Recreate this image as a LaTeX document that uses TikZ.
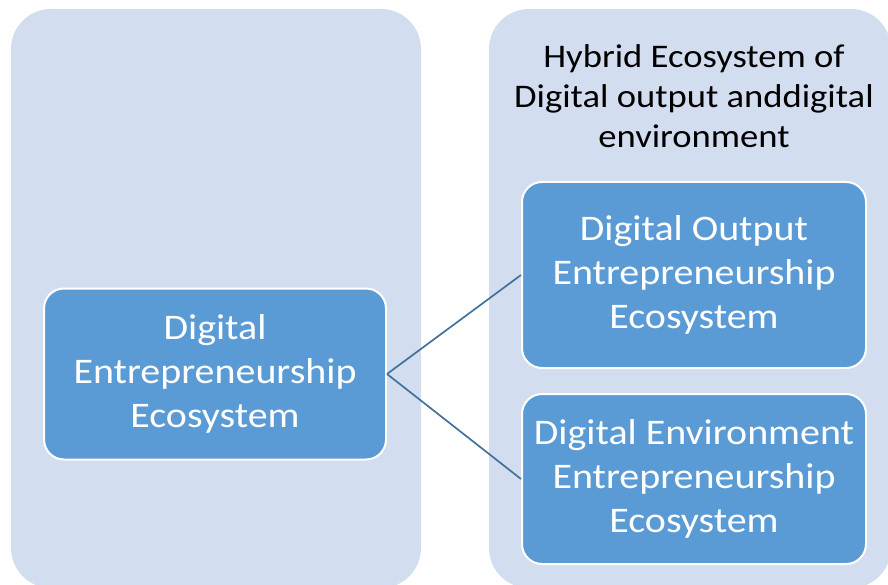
\documentclass[tikz,border=0pt]{standalone}
\usepackage{fontspec}
\setmainfont{Carlito}[FakeStretch=1.11]
\definecolor{panelblue}{HTML}{D2DEEF}
\definecolor{boxblue}{HTML}{5B9BD5}
\definecolor{lineblue}{HTML}{41719C}
\begin{document}
\begin{tikzpicture}[x=1pt, y=1pt,
  panel/.style={fill=panelblue, draw=none, rounded corners=40pt},
  ecobox/.style={rectangle, rounded corners=20pt, fill=boxblue, draw=white, line width=2pt,
    text=white, align=center, inner sep=0pt, font=\fontsize{36}{44}\selectfont},
  link/.style={draw=lineblue, line width=1.7pt}]

\def\yb{-588}; % panel bottom
\def\yt{-9}; % panel top

\path[use as bounding box, clip] (0, 0) rectangle (888, -585);

\filldraw[panel] (11, \yt) rectangle (421, \yb); % left panel
\filldraw[panel] (489, \yt) rectangle (891, \yb); % right panel

\node[align=center, font=\fontsize{33}{40}\selectfont] (hybrid) at (694, -96)
  {Hybrid Ecosystem of\\Digital output anddigital\\environment};

\node[ecobox, minimum width=342pt, minimum height=171pt] (digital) at (215, -374)
  {Digital\\Entrepreneurship\\Ecosystem};
\node[ecobox, minimum width=344pt, minimum height=186pt] (output) at (694, -275)
  {Digital Output\\Entrepreneurship\\Ecosystem};
\node[ecobox, minimum width=344pt, minimum height=170pt] (environment) at (694, -479)
  {Digital Environment\\Entrepreneurship\\Ecosystem};

\draw[link] (digital.east) -- (output.west);
\draw[link] (digital.east) -- (environment.west);

\end{tikzpicture}
\end{document}
